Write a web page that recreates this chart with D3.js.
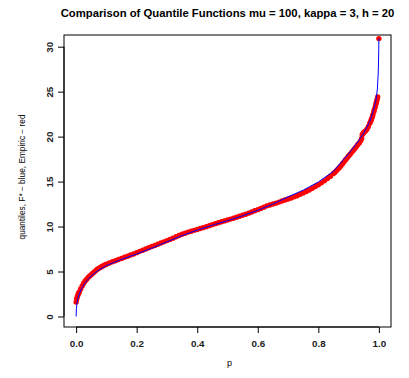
<!DOCTYPE html>
<html>
<head>
<meta charset="utf-8">
<script src="https://cdn.jsdelivr.net/npm/d3@7"></script>
<style>
  body { margin: 0; background: #fff; }
  text { font-family: "Liberation Sans", Arial, sans-serif; }
</style>
</head>
<body>
<div id="chart"></div>
<script>
// theoretical quantile function F* (blue)
var blueP = [0, 0.001, 0.003, 0.006, 0.01, 0.02, 0.03, 0.04, 0.05, 0.07, 0.1, 0.15, 0.2, 0.25, 0.3, 0.35, 0.4, 0.45, 0.5, 0.55, 0.6, 0.65, 0.7, 0.75, 0.8, 0.85, 0.9, 0.93, 0.95, 0.97, 0.98, 0.99, 0.995, 0.998, 0.9995, 1];
var blueQ = [0, 0.9, 1.5, 2.0, 2.5, 3.2, 3.75, 4.15, 4.5, 5.05, 5.65, 6.35, 6.95, 7.6, 8.3, 9.0, 9.6, 10.15, 10.65, 11.2, 11.8, 12.5, 13.3, 14.05, 14.95, 16.15, 18.1, 19.4, 20.4, 21.7, 22.7, 24.0, 25.3, 27.2, 29.5, 30.9];

// empirical quantiles (red)
var redP = [0, 0.002, 0.004, 0.006, 0.008, 0.01, 0.015, 0.02, 0.025, 0.03, 0.035, 0.04, 0.045,
  0.05, 0.055, 0.06, 0.065, 0.07, 0.075, 0.08, 0.085, 0.09, 0.095,
  0.10, 0.11, 0.12, 0.13, 0.14, 0.15, 0.16, 0.17, 0.18, 0.19,
  0.20, 0.21, 0.22, 0.23, 0.24, 0.25, 0.26, 0.27, 0.28, 0.29,
  0.30, 0.31, 0.32, 0.33, 0.34, 0.35, 0.36, 0.37, 0.38, 0.39,
  0.40, 0.41, 0.42, 0.43, 0.44, 0.45, 0.46, 0.47, 0.48, 0.49,
  0.50, 0.51, 0.52, 0.53, 0.54, 0.55, 0.56, 0.57, 0.58, 0.59,
  0.60, 0.61, 0.62, 0.63, 0.64, 0.65, 0.66, 0.67, 0.68, 0.69,
  0.70, 0.71, 0.72, 0.73, 0.74, 0.75, 0.76, 0.77, 0.78, 0.79,
  0.80, 0.81, 0.82, 0.83, 0.84, 0.85, 0.855, 0.86, 0.865, 0.87, 0.875, 0.88, 0.885, 0.89, 0.895,
  0.90, 0.905, 0.91, 0.915, 0.92, 0.925, 0.93, 0.935, 0.94, 0.943, 0.945, 0.948,
  0.95, 0.955, 0.96, 0.965, 0.97, 0.973, 0.975, 0.978, 0.98, 0.983, 0.985, 0.988, 0.99, 0.992, 0.994, 0.996, 1.0];
var redQ = [1.6, 1.95, 2.2, 2.4, 2.55, 2.7, 3.05, 3.4, 3.7, 3.95, 4.15, 4.35, 4.5,
  4.65, 4.8, 4.95, 5.1, 5.25, 5.35, 5.45, 5.55, 5.65, 5.72,
  5.8, 5.95, 6.08, 6.2, 6.33, 6.46, 6.58, 6.7, 6.83, 6.95,
  7.1, 7.24, 7.37, 7.5, 7.65, 7.78, 7.9, 8.03, 8.17, 8.3,
  8.44, 8.57, 8.71, 8.86, 9.01, 9.15, 9.26, 9.38, 9.48, 9.58,
  9.68, 9.78, 9.88, 9.99, 10.1, 10.21, 10.32, 10.43, 10.53, 10.63,
  10.73, 10.83, 10.93, 11.04, 11.15, 11.25, 11.36, 11.49, 11.62, 11.75,
  11.88, 12.0, 12.15, 12.3, 12.4, 12.5, 12.6, 12.72, 12.84, 12.95,
  13.06, 13.18, 13.3, 13.43, 13.58, 13.74, 13.9, 14.07, 14.25, 14.45,
  14.65, 14.86, 15.08, 15.33, 15.6, 15.9, 16.05, 16.22, 16.4, 16.58, 16.78, 16.98, 17.2, 17.42, 17.63,
  17.85, 18.05, 18.25, 18.45, 18.65, 18.88, 19.1, 19.3, 19.55, 19.8, 20.2, 20.35,
  20.45, 20.6, 20.8, 21.1, 21.5, 21.7, 21.9, 22.15, 22.4, 22.75, 23.0, 23.3, 23.6, 23.85, 24.1, 24.4, 30.9];

var xTicks = [0, 0.2, 0.4, 0.6, 0.8, 1.0];
var yTicks = [0, 5, 10, 15, 20, 25, 30];

var W = 409, H = 378;
var mLeft = 64, mRight = 391, mTop = 35, mBottom = 327;

var svg = d3.select('#chart').append('svg')
    .attr('width', W)
    .attr('height', H);

var x = d3.scaleLinear().domain([-0.04, 1.04]).range([mLeft, mRight]);
var y = d3.scaleLinear().domain([-1.17, 31.3]).range([mBottom, mTop]);

svg.append('defs').append('clipPath').attr('id', 'clip')
    .append('rect')
    .attr('x', mLeft).attr('y', mTop)
    .attr('width', mRight - mLeft).attr('height', mBottom - mTop);

var plot = svg.append('g').attr('clip-path', 'url(#clip)');

// red points first, blue line over them
plot.selectAll('circle')
    .data(redP)
    .enter()
    .append('circle')
    .attr('cx', function (d) { return x(d); })
    .attr('cy', function (d, i) { return y(redQ[i]); })
    .attr('r', 2.7)
    .attr('fill', '#ff0000');

var line = d3.line()
    .x(function (d) { return x(d); })
    .y(function (d, i) { return y(blueQ[i]); });

plot.append('path')
    .datum(blueP)
    .attr('d', line)
    .attr('fill', 'none')
    .attr('stroke', '#0000ff')
    .attr('stroke-width', 1);

// box
svg.append('rect')
    .attr('x', mLeft).attr('y', mTop)
    .attr('width', mRight - mLeft).attr('height', mBottom - mTop)
    .attr('fill', 'none')
    .attr('stroke', '#000')
    .attr('stroke-width', 1);

// axes
var xAxis = d3.axisBottom(x).tickValues(xTicks).tickSize(6).tickPadding(7)
    .tickFormat(d3.format('.1f'));
var gx = svg.append('g').attr('transform', 'translate(0,' + mBottom + ')').call(xAxis);
gx.select('.domain').attr('d', 'M' + x(0) + ',0H' + x(1));

var yAxis = d3.axisLeft(y).tickValues(yTicks).tickSize(6).tickPadding(0)
    .tickFormat(d3.format('d'));
var gy = svg.append('g').attr('transform', 'translate(' + mLeft + ',0)').call(yAxis);
gy.select('.domain').attr('d', 'M0,' + y(0) + 'V' + y(30));
gy.selectAll('.tick text')
    .attr('x', null).attr('dy', null)
    .attr('text-anchor', 'middle')
    .attr('transform', 'translate(-11,0) rotate(-90)');

svg.selectAll('.tick text')
    .style('font-family', '"Liberation Sans", Arial, sans-serif')
    .style('font-size', '9.8px')
    .style('font-weight', 'bold')
    .attr('fill', '#222');
svg.selectAll('.tick line, .domain').attr('stroke', '#000');

// titles
svg.append('text')
    .attr('x', (mLeft + mRight) / 2)
    .attr('y', 17)
    .attr('text-anchor', 'middle')
    .style('font-size', '11.3px')
    .style('font-weight', 'bold')
    .text('Comparison of Quantile Functions mu = 100, kappa = 3, h = 20');

svg.append('text')
    .attr('x', (mLeft + mRight) / 2 + 2)
    .attr('y', 366)
    .attr('text-anchor', 'middle')
    .style('font-size', '9px')
    .text('p');

svg.append('text')
    .attr('transform', 'translate(25,177) rotate(-90)')
    .attr('text-anchor', 'middle')
    .style('font-size', '8.3px')
    .text('quantiles, F* \u2212 blue, Empiric \u2212 red');
</script>
</body>
</html>
